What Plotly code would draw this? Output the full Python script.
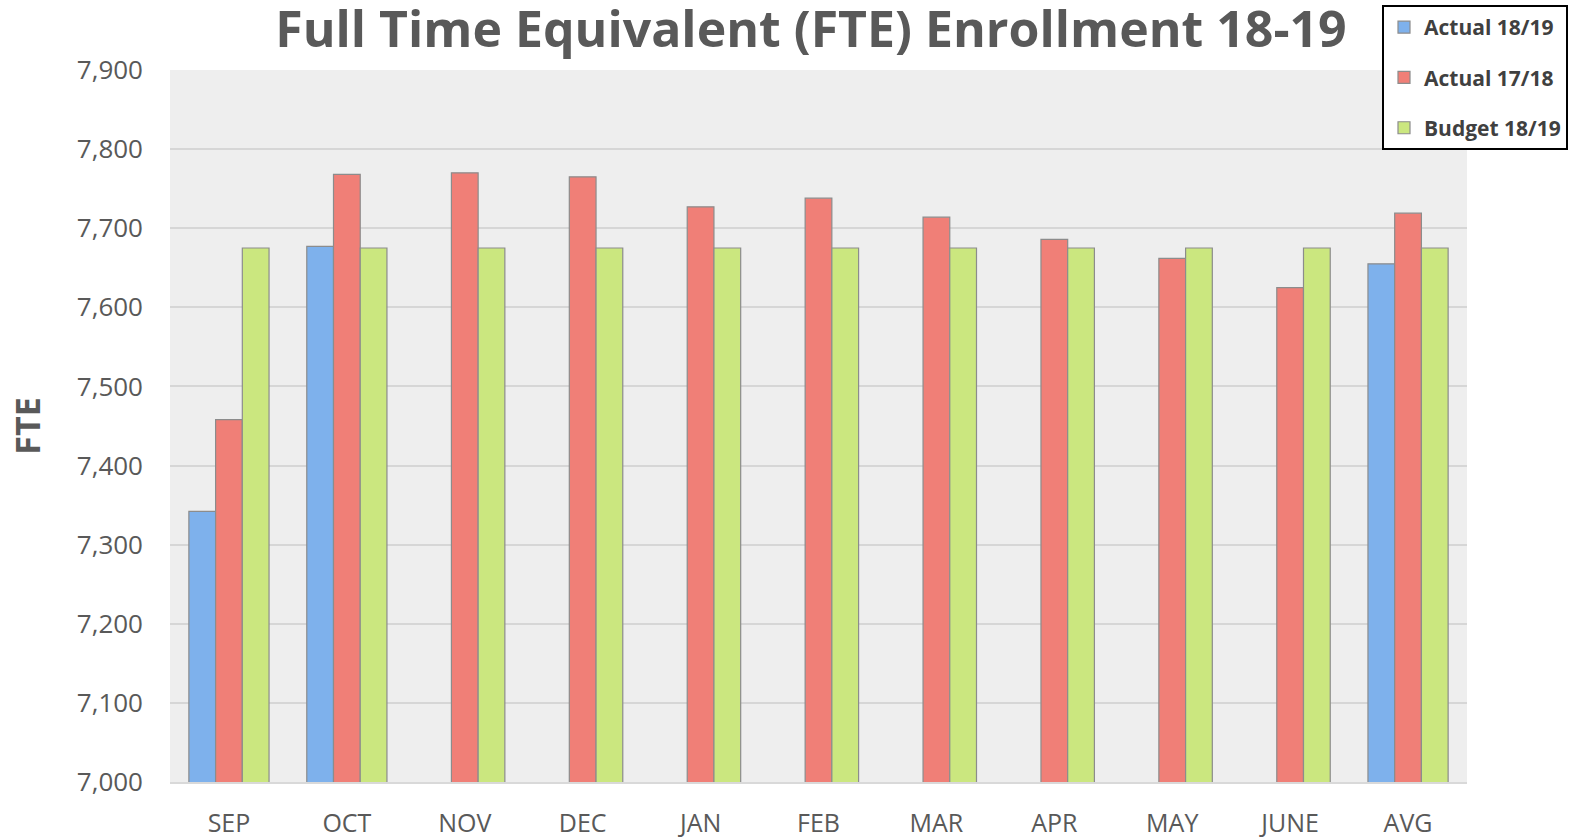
import plotly.graph_objects as go

months = ["SEP", "OCT", "NOV", "DEC", "JAN", "FEB", "MAR", "APR", "MAY", "JUNE", "AVG"]
actual_1819 = [7342, 7677, None, None, None, None, None, None, None, None, 7655]
actual_1718 = [7458, 7768, 7770, 7765, 7727, 7738, 7714, 7686, 7662, 7625, 7719]
budget_1819 = [7675, 7675, 7675, 7675, 7675, 7675, 7675, 7675, 7675, 7675, 7675]

series = [
    ("Actual 18/19", actual_1819, "#7eb1ec"),
    ("Actual 17/18", actual_1718, "#f07f77"),
    ("Budget 18/19", budget_1819, "#cbe77f"),
]

FONT = "Open Sans"
fig = go.Figure()
for i, (name, vals, col) in enumerate(series):
    fig.add_trace(go.Bar(
        x=months, y=vals, name=name, legendgroup=f"g{i}",
        marker=dict(color=col, line=dict(color="#8c8c8c", width=1.2)),
    ))

fig.update_layout(
    width=1576, height=838,
    barmode="group", bargap=0.32, bargroupgap=0,
    paper_bgcolor="white", plot_bgcolor="#eeeeee",
    margin=dict(l=170, r=109, t=70, b=56, autoexpand=False),
    font=dict(family=FONT, color="#595959"),
    title=dict(text="<b>Full Time Equivalent (FTE) Enrollment 18-19</b>",
               x=811 / 1576, xanchor="center", xref="container",
               y=1 - 12 / 838, yanchor="top", yref="container",
               pad=dict(t=0, b=0),
               font=dict(size=50, family=FONT, color="#595959")),
    legend=dict(xref="container", yref="container", x=1382 / 1576, y=1 - 5 / 838,
                xanchor="left", yanchor="top", bgcolor="white",
                bordercolor="black", borderwidth=2,
                font=dict(size=21, family=FONT, color="#404040", weight="bold"),
                tracegroupgap=20, traceorder="grouped", itemwidth=30),
    xaxis=dict(tickfont=dict(size=25, color="#595959"), showgrid=False,
               showline=True, linecolor="#d9d9d9", linewidth=2, ticks="",
               ticklabelstandoff=18),
    yaxis=dict(range=[7000, 7900], dtick=100, tickformat=",", showgrid=True,
               gridcolor="#d6d6d6", gridwidth=2, zeroline=False,
               tickfont=dict(size=26, color="#595959"), ticklabelstandoff=26,
               title=dict(text="<b>FTE</b>", font=dict(size=34, color="#595959"), standoff=25)),
)

fig.write_html("out.html", config={"displayModeBar": False},
               post_script="document.body.style.margin='0';")
